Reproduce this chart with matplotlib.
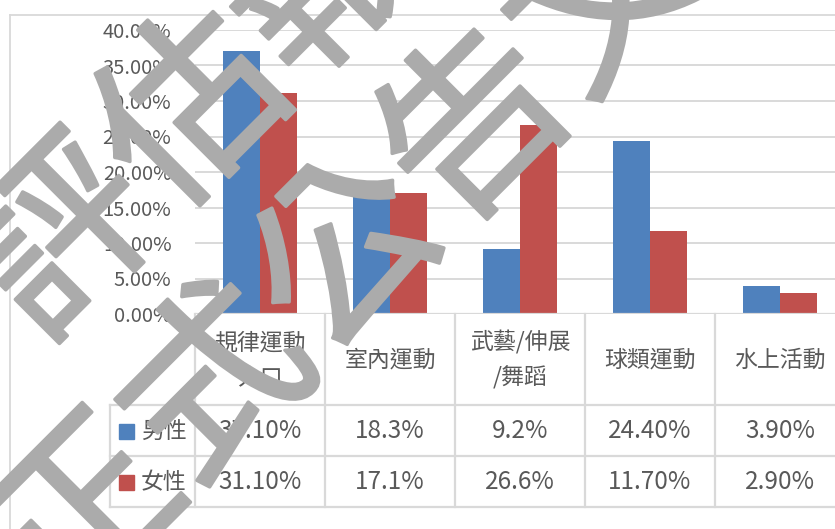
import numpy as np
import matplotlib
matplotlib.use('Agg')
import matplotlib.pyplot as plt
import matplotlib.patheffects as pe

plt.rcParams['font.family'] = ['Noto Sans CJK TC', 'DejaVu Sans']

categorias = ['規律運動\n人口', '室內運動', '武藝/伸展\n/舞蹈', '球類運動', '水上活動']
hombres = [37.10, 18.3, 9.2, 24.40, 3.90]
mujeres = [31.10, 17.1, 26.6, 11.70, 2.90]
etiquetas_h = ['37.10%', '18.3%', '9.2%', '24.40%', '3.90%']
etiquetas_m = ['31.10%', '17.1%', '26.6%', '11.70%', '2.90%']
series = ['男性', '女性']
colores = ['#4f81bd', '#c0504d']
yticks = [0, 5, 10, 15, 20, 25, 30, 35, 40]

W, H = 835, 529
gris = '#d9d9d9'
texto = '#595959'

fig = plt.figure(figsize=(W / 100, H / 100), dpi=100)

def fx(px):
    return px / W

def fy(py):
    return 1 - py / H

# marco del grafico
fig.add_artist(plt.Line2D([fx(10), fx(10)], [fy(15), 0], color=gris, lw=1.3))
fig.add_artist(plt.Line2D([fx(10), 1], [fy(15), fy(15)], color=gris, lw=1.3))

ax = fig.add_axes([fx(195), fy(314), fx(845) - fx(195), fy(30) - fy(314)])
x = np.arange(len(categorias))
ancho = 0.285
ax.bar(x - ancho / 2, hombres, ancho, color=colores[0], zorder=3)
ax.bar(x + ancho / 2, mujeres, ancho, color=colores[1], zorder=3)
ax.set_xlim(-0.5, 4.5)
ax.set_ylim(0, 40)
ax.set_yticks(yticks)
ax.set_yticklabels([f'{v:.2f}%' for v in yticks])
ax.tick_params(axis='y', length=0, pad=17, labelsize=14.5, labelcolor=texto)
ax.set_xticks([])
ax.grid(axis='y', color=gris, lw=1.4, zorder=0)
for s in ax.spines.values():
    s.set_visible(False)
ax.axhline(0, color=gris, lw=1.6, zorder=4)

# tabla de datos
tab = fig.add_axes([fx(195), fy(507), fx(845) - fx(195), fy(314) - fy(507)])
tab.set_xlim(-0.5, 4.5)
tab.set_ylim(507, 314)
tab.axis('off')
izq = -0.5 - 85 / 130
for xv in [-0.5, 0.5, 1.5, 2.5, 3.5]:
    tab.plot([xv, xv], [314, 507], color=gris, lw=1.6, clip_on=False)
tab.plot([izq, izq], [405, 507], color=gris, lw=1.6, clip_on=False)
for yv in [405, 456, 507]:
    tab.plot([izq, 4.5], [yv, yv], color=gris, lw=1.6, clip_on=False)

for i, c in enumerate(categorias):
    tab.text(i, 360, c, ha='center', va='center', fontsize=16.5, color=texto,
             linespacing=1.65, clip_on=False)
    tab.text(i, 431, etiquetas_h[i], ha='center', va='center', fontsize=17.5, color=texto)
    tab.text(i, 482, etiquetas_m[i], ha='center', va='center', fontsize=17.5, color=texto)

for j, (nombre, yc) in enumerate(zip(series, [431, 482])):
    tab.add_patch(plt.Rectangle((-0.5 - 76 / 130, yc - 7.5), 15 / 130, 15,
                                color=colores[j], clip_on=False))
    tab.text(-0.5 - 54 / 130, yc, nombre, ha='left', va='center', fontsize=16.5,
             color=texto, clip_on=False)

# marca de agua
marca = '#ababab'
trazo = [pe.withStroke(linewidth=2.5, foreground=marca)]
fig.text(fx(262), fy(50), '評估報告', rotation=45, rotation_mode='anchor',
         ha='center', va='center', fontsize=132, color=marca, zorder=10,
         path_effects=trazo)
fig.text(fx(415), fy(195), '正式公告文件', rotation=45, rotation_mode='anchor',
         ha='center', va='center', fontsize=132, color=marca, zorder=10,
         path_effects=trazo)

fig.savefig('out.png', dpi=100)
